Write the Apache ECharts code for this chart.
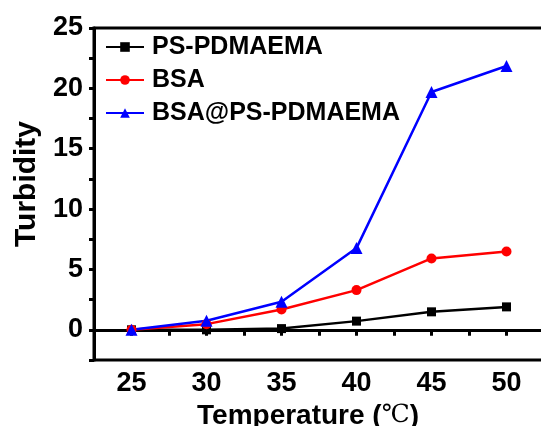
<!DOCTYPE html>
<html>
<head>
<meta charset="utf-8">
<script src="https://cdn.jsdelivr.net/npm/echarts@6/dist/echarts.min.js"></script>
<style>html,body{margin:0;padding:0;background:#fff;}#c{width:541px;height:426px;}</style>
</head>
<body>
<div id="c"></div>
<script>
const temperatures = [25, 30, 35, 40, 45, 50];
const psPdmaema = [0, 0, 0.1, 0.72, 1.49, 1.9];
const bsa = [0, 0.47, 1.68, 3.29, 5.91, 6.49];
const bsaPsPdmaema = [0, 0.75, 2.32, 6.77, 19.7, 21.85];
const seriesNames = ['PS-PDMAEMA', 'BSA', 'BSA@PS-PDMAEMA'];

const FONT = '"Liberation Sans", Arial, sans-serif';
const pairs = (ys) => temperatures.map((t, i) => [t, ys[i]]);

const chart = echarts.init(document.getElementById('c'));
chart.setOption({
  animation: false,
  backgroundColor: '#fff',
  grid: { left: 94, top: 28, width: 450, height: 332, show: true, borderColor: '#000', borderWidth: 3,
          backgroundColor: 'transparent', containLabel: false, outerBoundsMode: 'none' },
  legend: {
    orient: 'vertical', left: 100, top: 29, itemWidth: 38, itemHeight: 12, itemGap: 7,
    textStyle: { fontFamily: FONT, fontWeight: 'bold', fontSize: 25, color: '#000', lineHeight: 26, padding: [0, 0, 0, 3] },
    data: seriesNames
  },
  xAxis: {
    type: 'value', min: 22.5, max: 52.5, interval: 2.5,
    axisLine: { lineStyle: { color: '#000', width: 3 } },
    axisTick: { show: true, length: 6, lineStyle: { color: '#000', width: 3 } },
    splitLine: { show: false },
    axisLabel: {
      margin: 10, fontFamily: FONT, fontWeight: 'bold', fontSize: 27, color: '#000',
      formatter: (v) => (Math.abs(v % 5) < 1e-9 ? String(v) : '')
    },
    name: '{a|Temperature (}{b|℃}{a|)}', nameLocation: 'middle', nameGap: 36,
    nameTextStyle: {
      padding: [0, 22, 0, 0],
      rich: {
        a: { fontFamily: FONT, fontWeight: 'bold', fontSize: 28, color: '#000' },
        b: { fontFamily: '"DejaVu Serif", "Liberation Serif", serif', fontWeight: 'normal', fontSize: 25, color: '#000' }
      }
    }
  },
  yAxis: {
    type: 'value', min: -2.5, max: 25, interval: 2.5,
    axisLine: { show: true, lineStyle: { color: '#000', width: 3 } },
    axisTick: { show: true, length: 5, lineStyle: { color: '#000', width: 3 } },
    splitLine: { show: false },
    axisLabel: {
      margin: 11, fontFamily: FONT, fontWeight: 'bold', fontSize: 27, color: '#000',
      formatter: (v) => (Math.abs(v % 5) < 1e-9 ? String(v) : '')
    },
    name: 'Turbidity', nameLocation: 'middle', nameGap: 52,
    nameTextStyle: { fontFamily: FONT, fontWeight: 'bold', fontSize: 30, color: '#000', padding: [0, 0, 0, 20] }
  },
  series: [
    { name: seriesNames[0], type: 'line', data: pairs(psPdmaema), symbol: 'rect', symbolSize: 9,
      itemStyle: { color: '#000' }, lineStyle: { color: '#000', width: 2.5 } },
    { name: seriesNames[1], type: 'line', data: pairs(bsa), symbol: 'circle', symbolSize: 10,
      itemStyle: { color: '#ff0000' }, lineStyle: { color: '#ff0000', width: 2.5 } },
    { name: seriesNames[2], type: 'line', data: pairs(bsaPsPdmaema), symbol: 'triangle', symbolSize: 12,
      itemStyle: { color: '#0000ff' }, lineStyle: { color: '#0000ff', width: 2.5 } }
  ]
});
</script>
</body>
</html>
